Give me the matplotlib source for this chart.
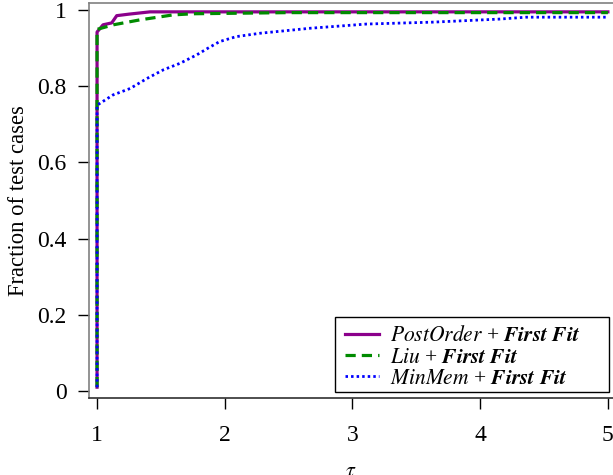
import matplotlib
matplotlib.use("Agg")
import matplotlib.pyplot as plt
from matplotlib.patches import Rectangle

plt.rcParams["font.family"] = ["Liberation Serif", "DejaVu Serif"]
plt.rcParams["mathtext.fontset"] = "stix"
plt.rcParams["font.size"] = 16

# performance profile curves (tau, fraction)
po_x = [1.0, 1.0, 1.0, 1.047, 1.115, 1.154, 1.25, 1.415, 2.0, 3.0, 4.0, 5.0]
po_y = [0.01, 0.5, 0.942, 0.961, 0.966, 0.985, 0.989, 0.995, 0.995, 0.995, 0.995, 0.995]

liu_x = [1.0, 1.0, 1.0, 1.128, 1.336, 1.595, 1.75, 2.0, 2.5, 3.0, 4.0, 5.0]
liu_y = [0.01, 0.5, 0.949, 0.961, 0.974, 0.987, 0.99, 0.991, 0.993, 0.993, 0.993, 0.993]

mm_x = [1.0, 1.0, 1.0, 1.125, 1.26, 1.39, 1.52, 1.65, 1.78, 1.87, 1.96, 2.09,
        2.28, 2.67, 3.11, 3.63, 4.15, 4.36, 5.0]
mm_y = [0.01, 0.4, 0.75, 0.777, 0.794, 0.82, 0.843, 0.86, 0.882, 0.9, 0.917, 0.93,
        0.939, 0.952, 0.963, 0.968, 0.976, 0.981, 0.981]

fig = plt.figure(figsize=(6.13, 4.75), dpi=100)
ax = fig.add_axes([0.1452, 0.1627, 0.8548, 0.83])

ax.plot(po_x, po_y, color="#8B008B", lw=2.3,
        label=r"$PostOrder$ + $\mathbfit{First\ Fit}$")
ax.plot(liu_x, liu_y, color="#008B00", lw=2.3, linestyle=(0, (3.2, 1.9)),
        label=r"$Liu$ + $\mathbfit{First\ Fit}$")
ax.plot(mm_x, mm_y, color="#0000FF", lw=2.0, linestyle=(0, (0.9, 1.1)),
        label=r"$MinMem$ + $\mathbfit{First\ Fit}$")

ax.set_xlim(0.937, 5.04)
ax.set_ylim(-0.0176, 1.017)
ax.set_xticks([1, 2, 3, 4, 5])
ax.set_xticklabels(["1", "2", "3", "4", "5"])
ax.set_yticks([0, 0.2, 0.4, 0.6, 0.8, 1])
ax.set_yticklabels(["0", "0.2", "0.4", "0.6", "0.8", "1"])
ax.tick_params(axis="x", direction="out", length=8, width=1, pad=12, labelsize=17)
ax.tick_params(axis="y", direction="out", length=8, width=1, pad=8, labelsize=17)

ax.spines["right"].set_visible(False)
for s in ["left", "bottom", "top"]:
    ax.spines[s].set_color("#808080")
    ax.spines[s].set_linewidth(1.2)
ax.spines["bottom"].set_color("#303030")

ax.set_xlabel(r"$\tau$", labelpad=12, fontsize=16)
ax.set_ylabel("Fraction of test cases", labelpad=6, fontsize=16.3)

# legend box is wider than its contents, like the R original
ax.add_patch(Rectangle((0.4695, 0.0145), 0.5229, 0.191, transform=ax.transAxes,
                       facecolor="white", edgecolor="black", lw=1.0, zorder=4))
leg = ax.legend(loc="upper left", bbox_to_anchor=(0.4695, 0.2055), borderaxespad=0,
                frameon=False, handlelength=1.6, labelspacing=0.05, borderpad=0.45,
                handletextpad=0.5, fontsize=15.5)
leg.set_zorder(5)

fig.savefig("out.png", dpi=100)
